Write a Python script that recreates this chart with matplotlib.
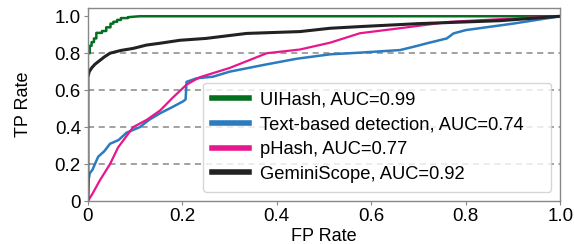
import matplotlib
matplotlib.use("Agg")
import matplotlib.pyplot as plt

plt.rcParams['font.family'] = ['Liberation Sans', 'DejaVu Sans']

labels = ["UIHash, AUC=0.99", "Text-based detection, AUC=0.74",
          "pHash, AUC=0.77", "GeminiScope, AUC=0.92"]
colors = ["#04701f", "#2a7bc0", "#e8168c", "#222222"]

ui_x = [0, 0, 0.004, 0.004, 0.008, 0.008, 0.013, 0.013, 0.018, 0.018, 0.03, 0.03, 0.039, 0.039,
        0.048, 0.048, 0.054, 0.054, 0.062, 0.062, 0.07, 0.07, 0.085, 0.085, 0.11, 1.0]
ui_y = [0, 0.80, 0.80, 0.84, 0.84, 0.86, 0.86, 0.88, 0.88, 0.91, 0.91, 0.92, 0.92, 0.94,
        0.94, 0.96, 0.96, 0.97, 0.97, 0.98, 0.98, 0.99, 0.99, 0.995, 1.0, 1.0]

txt_x = [0, 0.002, 0.004, 0.01, 0.015, 0.022, 0.035, 0.047, 0.065, 0.082, 0.11, 0.13, 0.153,
         0.18, 0.202, 0.207, 0.209, 0.23, 0.265, 0.3, 0.371, 0.442, 0.513, 0.576, 0.661,
         0.69, 0.717, 0.76, 0.774, 0.80, 0.9, 1.0]
txt_y = [0, 0.12, 0.15, 0.17, 0.20, 0.24, 0.27, 0.31, 0.33, 0.37, 0.40, 0.44, 0.475,
         0.51, 0.54, 0.55, 0.645, 0.664, 0.673, 0.70, 0.736, 0.77, 0.794, 0.803, 0.817,
         0.835, 0.853, 0.88, 0.907, 0.925, 0.96, 1.0]

ph_x = [0, 0.01, 0.025, 0.047, 0.064, 0.096, 0.125, 0.153, 0.18, 0.209, 0.237, 0.3, 0.379,
        0.449, 0.513, 0.576, 0.66, 0.767, 0.88, 1.0]
ph_y = [0, 0.04, 0.11, 0.20, 0.29, 0.40, 0.44, 0.49, 0.56, 0.63, 0.67, 0.72, 0.80,
        0.82, 0.857, 0.908, 0.935, 0.97, 0.985, 1.0]

gs_x = [0, 0, 0.003, 0.008, 0.015, 0.025, 0.035, 0.047, 0.07, 0.096, 0.124, 0.153, 0.195,
        0.25, 0.336, 0.449, 0.513, 0.576, 0.7, 0.873, 1.0]
gs_y = [0, 0.67, 0.70, 0.72, 0.74, 0.76, 0.78, 0.80, 0.815, 0.826, 0.844, 0.854, 0.87,
        0.88, 0.907, 0.917, 0.935, 0.944, 0.96, 0.976, 1.0]

xs = [ui_x, txt_x, ph_x, gs_x]
ys = [ui_y, txt_y, ph_y, gs_y]

fig = plt.figure(figsize=(5.74, 2.44), dpi=100)
ax = fig.add_axes([0.153, 0.176, 0.823, 0.79])

for y in [0.2, 0.4, 0.6, 0.8]:
    ax.axhline(y, color='#888888', lw=1.1, ls=(0, (4, 3)), zorder=0)

lws = [1.8, 1.8, 1.6, 2.2]
for x, y, c, lab, lw in zip(xs, ys, colors, labels, lws):
    ax.plot(x, y, color=c, lw=lw, label=lab)

ax.set_xlim(0, 1.0)
ax.set_ylim(0, 1.043)
ax.set_xticks([0, 0.2, 0.4, 0.6, 0.8, 1.0])
ax.set_xticklabels(["0", "0.2", "0.4", "0.6", "0.8", "1.0"])
ax.set_yticks([0, 0.2, 0.4, 0.6, 0.8, 1.0])
ax.set_yticklabels(["0", "0.2", "0.4", "0.6", "0.8", "1.0"])
ax.tick_params(labelsize=13.5, length=3, color='#888888', pad=2)
for s in ax.spines.values():
    s.set_color('#888888')
    s.set_linewidth(1.0)
ax.set_xlabel("FP Rate", fontsize=13, labelpad=2)
ax.set_ylabel("TP Rate", fontsize=13, labelpad=16)

leg = ax.legend(loc='lower left', bbox_to_anchor=(0.244, 0.047, 0.737, 0.5),
                mode='expand', borderaxespad=0,
                fontsize=13.2, frameon=True, fancybox=True, handlelength=2.0,
                labelspacing=0.42, handletextpad=0.6, borderpad=0.5)
leg.get_frame().set_edgecolor('#cccccc')
for h in leg.get_lines():
    h.set_linewidth(4)

fig.savefig("out.png", dpi=100)
